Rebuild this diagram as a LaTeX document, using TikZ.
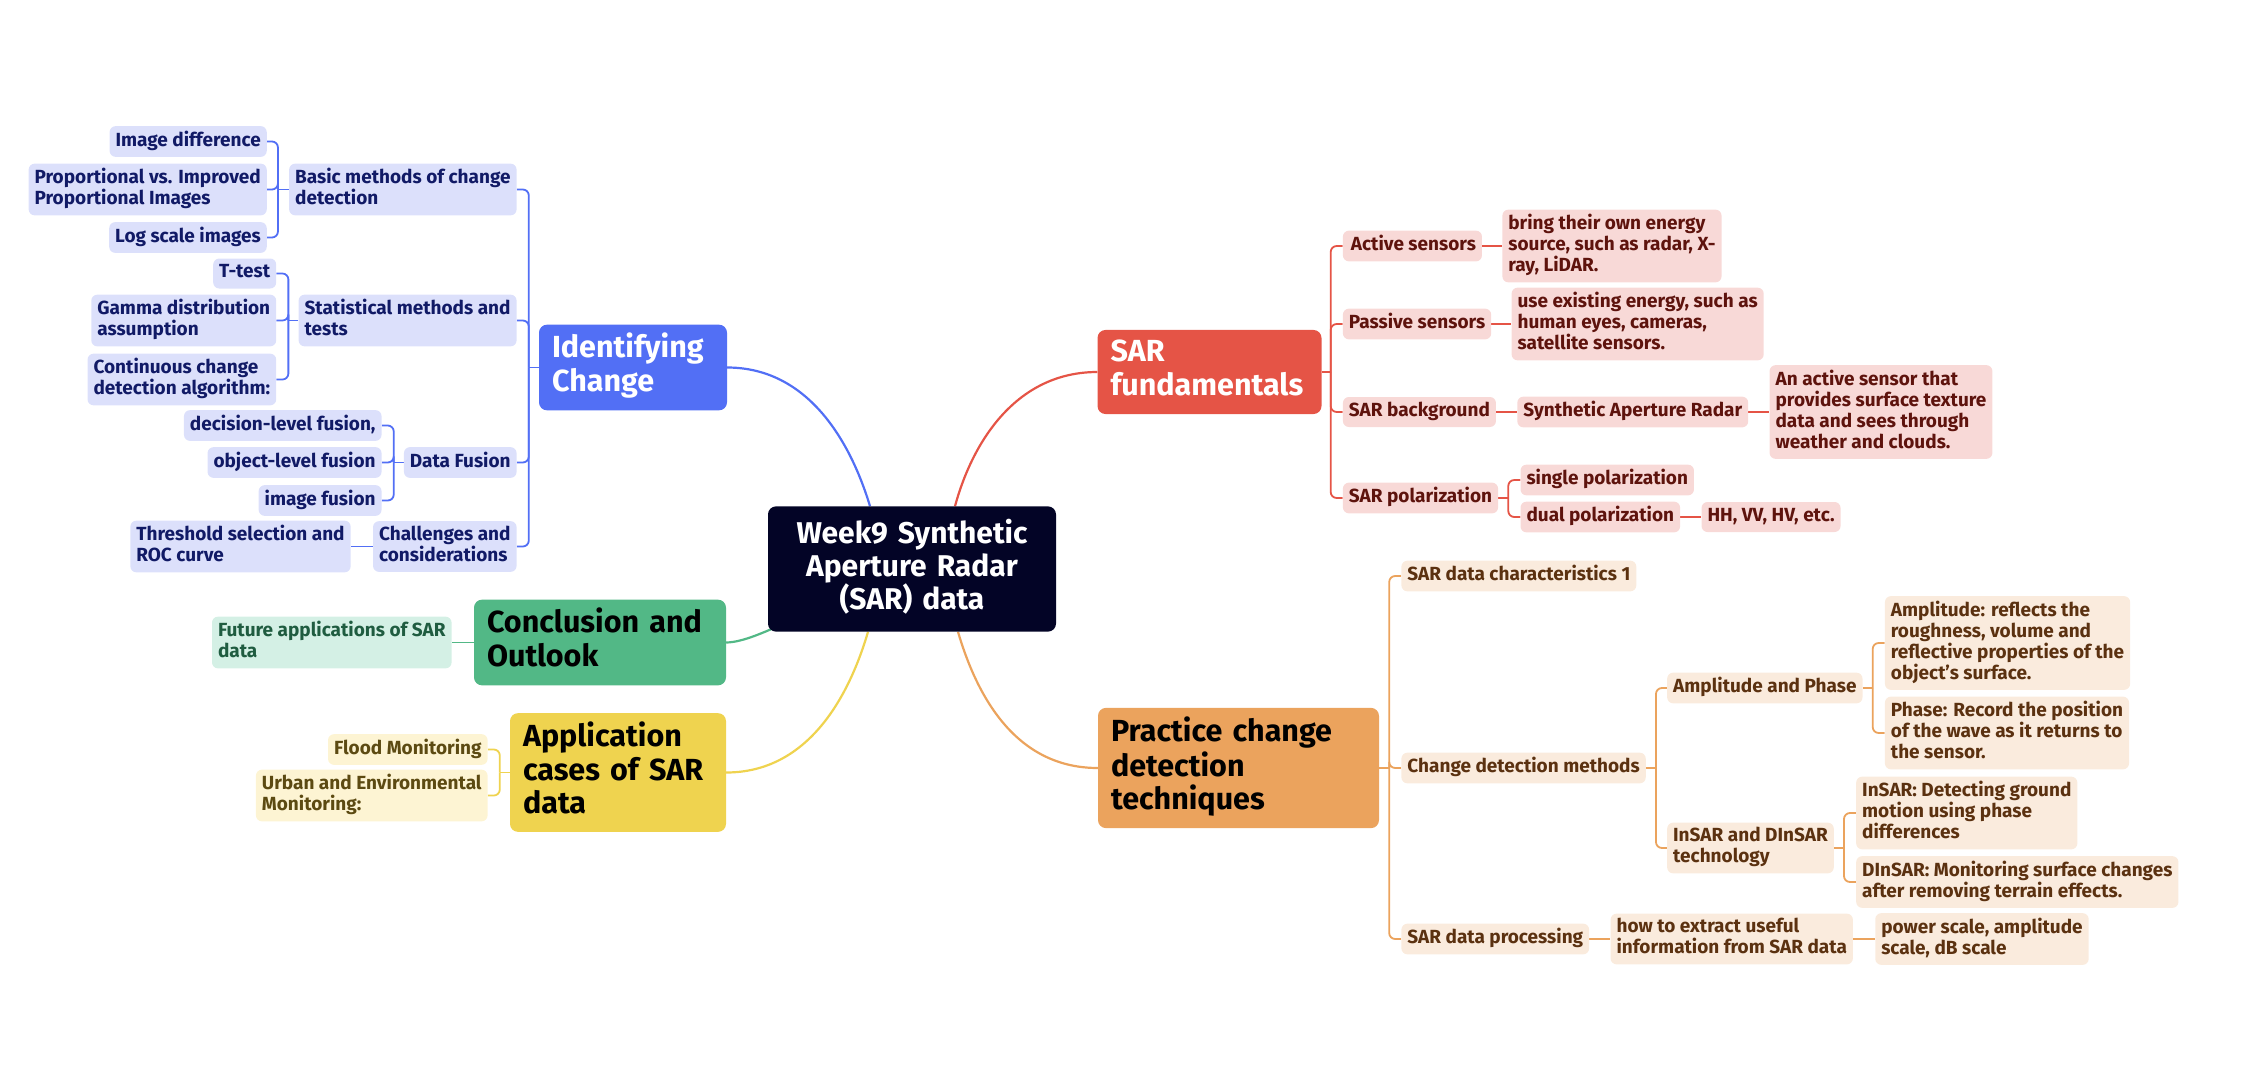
\documentclass[tikz,border=0pt]{standalone}
\usepackage{fontspec}
\setmainfont{Fira Sans}
\usetikzlibrary{calc}
\pgfdeclarelayer{bg}
\pgfsetlayers{bg,main}
\definecolor{rootc}{HTML}{030426}
\definecolor{bmain}{HTML}{526FF5}
\definecolor{bfill}{HTML}{DCE0FB}
\definecolor{btext}{HTML}{111A66}
\definecolor{rmain}{HTML}{E55446}
\definecolor{rfill}{HTML}{F8D9D7}
\definecolor{rtext}{HTML}{5E130D}
\definecolor{omain}{HTML}{EBA35D}
\definecolor{ofill}{HTML}{FAEBDD}
\definecolor{otext}{HTML}{5B3110}
\definecolor{ymain}{HTML}{EFD34F}
\definecolor{yfill}{HTML}{FDF4D3}
\definecolor{ytext}{HTML}{5C4A12}
\definecolor{gmain}{HTML}{52B886}
\definecolor{gfill}{HTML}{D4F0E5}
\definecolor{gtext}{HTML}{1F5C40}
\tikzset{
  sub/.style={rounded corners=6, inner xsep=6, inner ysep=4.5, align=left,
    font=\bfseries\fontsize{19}{21}\selectfont,
    execute at begin node=\strut, execute at end node=\strut},
  bsub/.style={sub, fill=bfill, text=btext},
  rsub/.style={sub, fill=rfill, text=rtext},
  osub/.style={sub, fill=ofill, text=otext},
  ysub/.style={sub, fill=yfill, text=ytext},
  gsub/.style={sub, fill=gfill, text=gtext},
  topic/.style={rounded corners=8, inner xsep=13, inner ysep=8.5, align=left,
    font=\bfseries\fontsize{30.5}{33}\selectfont,
    execute at begin node=\strut, execute at end node=\strut},
  bline/.style={draw=bmain, line width=1.8},
  rline/.style={draw=rmain, line width=1.8},
  oline/.style={draw=omain, line width=1.8},
  yline/.style={draw=ymain, line width=1.8},
  gline/.style={draw=gmain, line width=1.8},
  rc/.style={rounded corners=6},
}
\begin{document}
\begin{tikzpicture}[x=1pt,y=-1pt]
\useasboundingbox (0,0) rectangle (2244,1082);
% central
\node[fill=rootc, text=white, rounded corners=8, inner xsep=8, inner ysep=12.5, align=center,
  text width=272, font=\bfseries\fontsize{30}{33}\selectfont,
  execute at begin node=\strut, execute at end node=\strut] (root) at (912,569)
  {Week9 Synthetic\\Aperture Radar\\(SAR) data};
% main topics
\node[topic, fill=bmain, text=white, text width=162] (ident) at (633,367.5) {Identifying\\Change};
\node[topic, fill=rmain, text=white, text width=198] (sarf) at (1209.5,372) {SAR\\fundamentals};
\node[topic, fill=omain, text=black, text width=255] (prac) at (1238.5,768) {Practice change\\detection\\techniques};
\node[topic, fill=gmain, text=black, text width=226] (conc) at (600,642.5) {Conclusion and\\Outlook};
\node[topic, fill=ymain, text=black, text width=190] (app) at (618,772.5) {Application\\cases of SAR\\data};
% blue subtree
\node[bsub, anchor=east] (basic) at ($(ident.west)+(-22,-178)$) {Basic methods of change\\detection};
\node[bsub, anchor=east] (stat) at ($(ident.west)+(-22,-47)$) {Statistical methods and\\tests};
\node[bsub, anchor=east] (fusion) at ($(ident.west)+(-22,95)$) {Data Fusion};
\node[bsub, anchor=east] (chall) at ($(ident.west)+(-22,179)$) {Challenges and\\considerations};
\node[bsub, anchor=east] (imgd) at ($(basic.west)+(-22,-48)$) {Image difference};
\node[bsub, anchor=east] (prop) at ($(basic.west)+(-22,0)$) {Proportional vs. Improved\\Proportional Images};
\node[bsub, anchor=east] (logs) at ($(basic.west)+(-22,48)$) {Log scale images};
\node[bsub, anchor=east] (ttest) at ($(stat.west)+(-22,-47)$) {T-test};
\node[bsub, anchor=east] (gamma) at ($(stat.west)+(-22,0)$) {Gamma distribution\\assumption};
\node[bsub, anchor=east] (cont) at ($(stat.west)+(-22,59)$) {Continuous change\\detection algorithm:};
\node[bsub, anchor=east] (dec) at ($(fusion.west)+(-22,-37)$) {decision-level fusion,};
\node[bsub, anchor=east] (obj) at ($(fusion.west)+(-22,0)$) {object-level fusion};
\node[bsub, anchor=east] (imf) at ($(fusion.west)+(-22,38)$) {image fusion};
\node[bsub, anchor=east] (thr) at ($(chall.west)+(-22,0)$) {Threshold selection and\\ROC curve};
% green / yellow
\node[gsub, anchor=east] (fut) at ($(conc.west)+(-22,0)$) {Future applications of SAR\\data};
\node[ysub, anchor=east] (flood) at ($(app.west)+(-22,-23)$) {Flood Monitoring};
\node[ysub, anchor=east] (urban) at ($(app.west)+(-22,23)$) {Urban and Environmental\\Monitoring:};
% red subtree
\node[rsub, anchor=west] (act) at ($(sarf.east)+(21,-126)$) {\hspace*{2pt}Active sensors};
\node[rsub, anchor=west] (pas) at ($(sarf.east)+(21,-48)$) {Passive sensors};
\node[rsub, anchor=west] (bg) at ($(sarf.east)+(21,40)$) {SAR background};
\node[rsub, anchor=west] (pol) at ($(sarf.east)+(21,126)$) {SAR polarization};
\node[rsub, anchor=west] (bring) at ($(act.east)+(20,0)$) {bring their own energy\\source, such as radar, X-\\ray, LiDAR.};
\node[rsub, anchor=west] (useex) at ($(pas.east)+(20,0)$) {use existing energy, such as\\human eyes, cameras,\\satellite sensors.};
\node[rsub, anchor=west] (synth) at ($(bg.east)+(21,0)$) {Synthetic Aperture Radar};
\node[rsub, anchor=west] (anact) at ($(synth.east)+(21,0)$) {An active sensor that\\provides surface texture\\data and sees through\\weather and clouds.};
\node[rsub, anchor=west] (single) at ($(pol.east)+(22,-18)$) {single polarization};
\node[rsub, anchor=west] (dual) at ($(pol.east)+(22,19)$) {dual polarization};
\node[rsub, anchor=west] (hh) at ($(dual.east)+(21,0)$) {HH, VV, HV, etc.};
% orange subtree
\node[osub, anchor=west] (char) at ($(prac.east)+(22,-192)$) {SAR data characteristics 1};
\node[osub, anchor=west] (cdm) at ($(prac.east)+(22,0)$) {Change detection methods};
\node[osub, anchor=west] (proc) at ($(prac.east)+(22,171)$) {SAR data processing};
\node[osub, anchor=west] (ap) at ($(cdm.east)+(21,-80)$) {Amplitude and Phase};
\node[osub, anchor=west] (ins) at ($(cdm.east)+(21,80)$) {InSAR and DInSAR\\technology};
\node[osub, anchor=west] (amp) at ($(ap.east)+(22,-45)$) {Amplitude: reflects the\\roughness, volume and\\reflective properties of the\\object’s surface.};
\node[osub, anchor=west] (pha) at ($(ap.east)+(22,45)$) {Phase: Record the position\\of the wave as it returns to\\the sensor.};
\node[osub, anchor=west] (insar) at ($(ins.east)+(22,-35)$) {InSAR: Detecting ground\\motion using phase\\differences};
\node[osub, anchor=west] (dinsar) at ($(ins.east)+(22,34)$) {DInSAR: Monitoring surface changes\\after removing terrain effects.};
\node[osub, anchor=west] (how) at ($(proc.east)+(21,0)$) {how to extract useful\\information from SAR data};
\node[osub, anchor=west] (pow) at ($(how.east)+(22,0)$) {power scale, amplitude\\scale, dB scale};
% connectors
\begin{pgfonlayer}{bg}
\draw[bline, line width=2.2] (ident.east) .. controls ($(ident.east)+(80,0)$) and (850,440) .. ($(root.north)+(-42,0)$);
\draw[rline, line width=2.2] (sarf.west) .. controls ($(sarf.west)+(-80,0)$) and (973,440) .. ($(root.north)+(43,0)$);
\draw[oline, line width=2.2] (prac.west) .. controls ($(prac.west)+(-80,0)$) and (978,700) .. ($(root.south)+(46,0)$);
\draw[yline, line width=2.2] (app.east) .. controls ($(app.east)+(80,0)$) and (848,700) .. ($(root.south)+(-44,0)$);
\draw[gline, line width=2.2] (conc.east) .. controls (760,642) and (820,600) .. (root.center);
% blue
\coordinate (jb) at ($(ident.west)+(-10,0)$);
\draw[bline] (ident.west) -- (jb);
\draw[bline, rc] (jb) |- (basic.east);
\draw[bline, rc] (jb) |- (stat.east);
\draw[bline, rc] (jb) |- (fusion.east);
\draw[bline, rc] (jb) |- (chall.east);
\coordinate (jb1) at ($(basic.west)+(-11,0)$);
\draw[bline] (basic.west) -- (jb1);
\draw[bline, rc] (jb1) |- (imgd.east);
\draw[bline, rc] (jb1) |- (prop.east);
\draw[bline, rc] (jb1) |- (logs.east);
\coordinate (jb2) at ($(stat.west)+(-10,0)$);
\draw[bline] (stat.west) -- (jb2);
\draw[bline, rc] (jb2) |- (ttest.east);
\draw[bline, rc] (jb2) |- (gamma.east);
\draw[bline, rc] (jb2) |- (cont.east);
\coordinate (jb3) at ($(fusion.west)+(-10,0)$);
\draw[bline] (fusion.west) -- (jb3);
\draw[bline, rc] (jb3) |- (dec.east);
\draw[bline, rc] (jb3) |- (obj.east);
\draw[bline, rc] (jb3) |- (imf.east);
\draw[bline] (chall.west) -- (thr.east);
% green / yellow
\draw[gline] (conc.west) -- (fut.east);
\coordinate (jy) at ($(app.west)+(-10,0)$);
\draw[yline] (app.west) -- (jy);
\draw[yline, rc] (jy) |- (flood.east);
\draw[yline, rc] (jy) |- (urban.east);
% red
\coordinate (jr) at ($(sarf.east)+(9,0)$);
\draw[rline] (sarf.east) -- (jr);
\draw[rline, rc] (jr) |- (act.west);
\draw[rline, rc] (jr) |- (pas.west);
\draw[rline, rc] (jr) |- (bg.west);
\draw[rline, rc] (jr) |- (pol.west);
\draw[rline] (act.east) -- (bring.west);
\draw[rline] (pas.east) -- (useex.west);
\draw[rline] (bg.east) -- (synth.west);
\draw[rline] (synth.east) -- (anact.west);
\coordinate (jr1) at ($(pol.east)+(10,0)$);
\draw[rline] (pol.east) -- (jr1);
\draw[rline, rc] (jr1) |- (single.west);
\draw[rline, rc] (jr1) |- (dual.west);
\draw[rline] (dual.east) -- (hh.west);
% orange
\coordinate (jo) at ($(prac.east)+(10,0)$);
\draw[oline] (prac.east) -- (jo);
\draw[oline, rc] (jo) |- (char.west);
\draw[oline, rc] (jo) |- (cdm.west);
\draw[oline, rc] (jo) |- (proc.west);
\coordinate (jo1) at ($(cdm.east)+(10,0)$);
\draw[oline] (cdm.east) -- (jo1);
\draw[oline, rc] (jo1) |- (ap.west);
\draw[oline, rc] (jo1) |- (ins.west);
\coordinate (jo2) at ($(ap.east)+(10,0)$);
\draw[oline] (ap.east) -- (jo2);
\draw[oline, rc] (jo2) |- (amp.west);
\draw[oline, rc] (jo2) |- (pha.west);
\coordinate (jo3) at ($(ins.east)+(10,0)$);
\draw[oline] (ins.east) -- (jo3);
\draw[oline, rc] (jo3) |- (insar.west);
\draw[oline, rc] (jo3) |- (dinsar.west);
\draw[oline] (proc.east) -- (how.west);
\draw[oline] (how.east) -- (pow.west);
\end{pgfonlayer}
\end{tikzpicture}
\end{document}
